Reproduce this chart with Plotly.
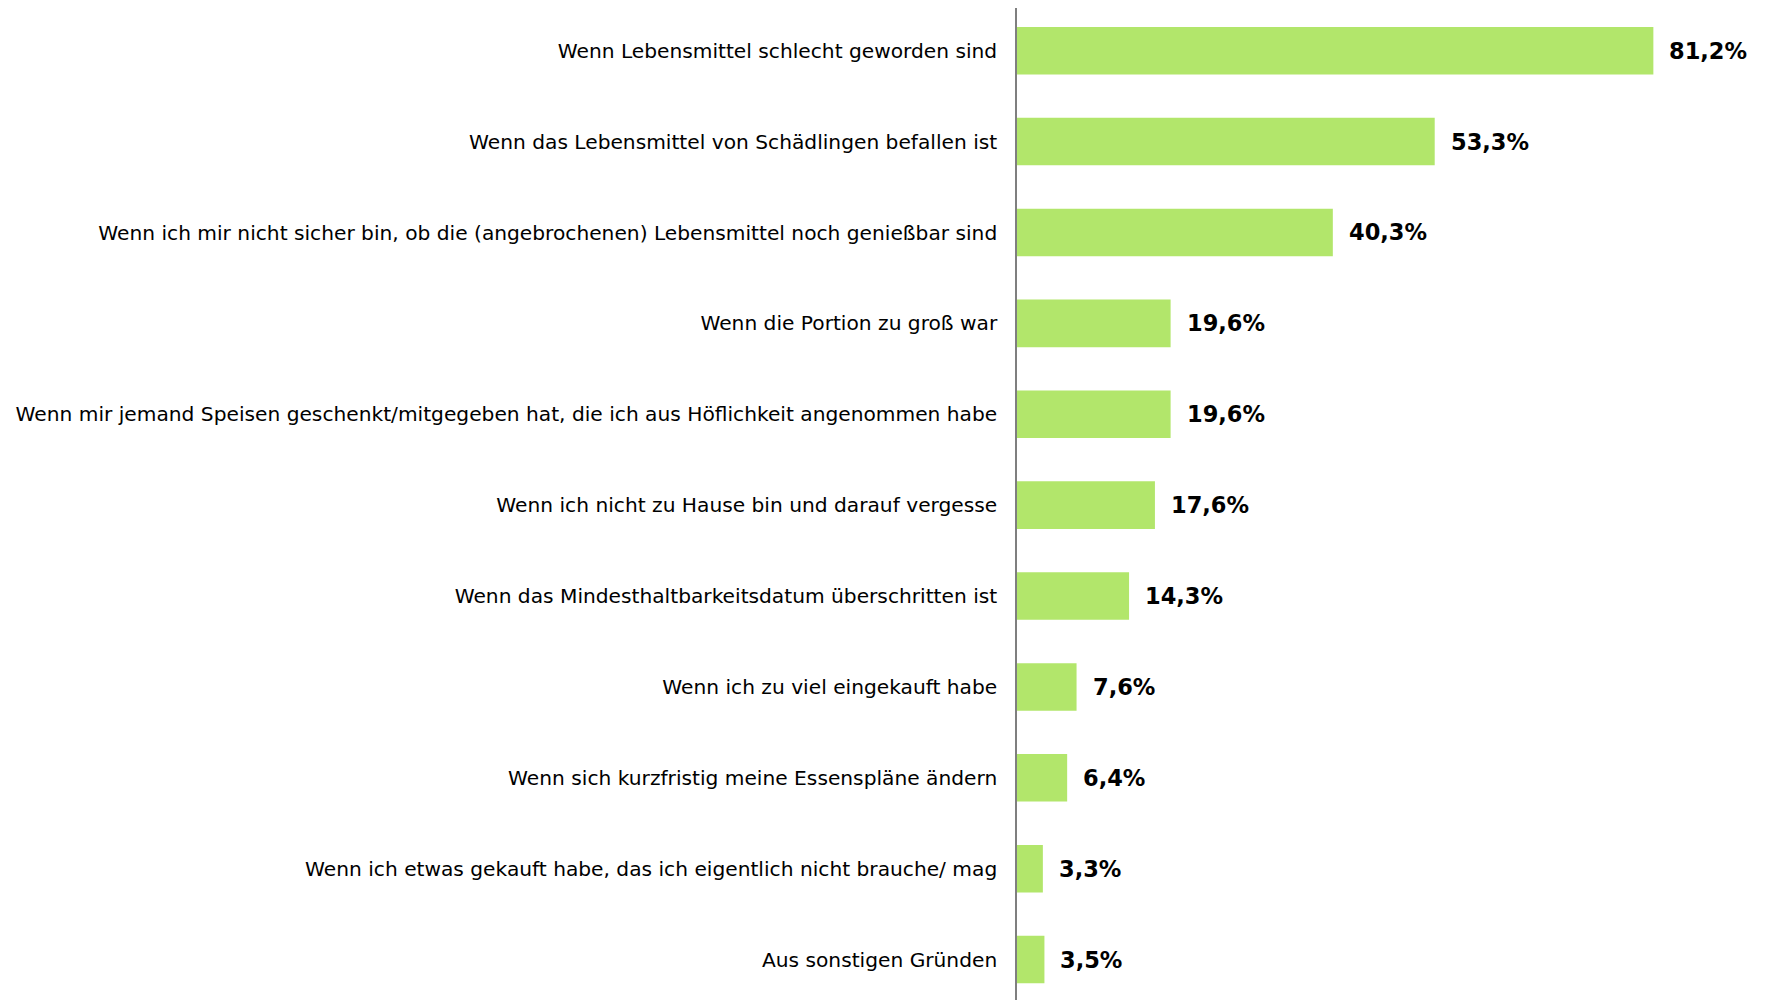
import plotly.graph_objects as go

categories = [
    "Wenn Lebensmittel schlecht geworden sind",
    "Wenn das Lebensmittel von Schädlingen befallen ist",
    "Wenn ich mir nicht sicher bin, ob die (angebrochenen) Lebensmittel noch genießbar sind",
    "Wenn die Portion zu groß war",
    "Wenn mir jemand Speisen geschenkt/mitgegeben hat, die ich aus Höflichkeit angenommen habe",
    "Wenn ich nicht zu Hause bin und darauf vergesse",
    "Wenn das Mindesthaltbarkeitsdatum überschritten ist",
    "Wenn ich zu viel eingekauft habe",
    "Wenn sich kurzfristig meine Essenspläne ändern",
    "Wenn ich etwas gekauft habe, das ich eigentlich nicht brauche/ mag",
    "Aus sonstigen Gründen",
]
values = [81.2, 53.3, 40.3, 19.6, 19.6, 17.6, 14.3, 7.6, 6.4, 3.3, 3.5]
labels = [f"{v:.1f}".replace(".", ",") + "%" for v in values]

fig = go.Figure(
    go.Bar(
        x=values,
        y=categories,
        orientation="h",
        marker=dict(color="#B2E66B", line=dict(width=0)),
        width=0.523,
        hoverinfo="skip",
    )
)

for c, v, t in zip(categories, values, labels):
    fig.add_annotation(
        x=v, y=c, text=f"<b>{t}</b>", showarrow=False, xanchor="left", yanchor="middle",
        xshift=14, font=dict(family="DejaVu Sans", size=22.5, color="#000000"),
    )

fig.update_layout(
    width=1757,
    height=992,
    margin=dict(l=1009, r=0, t=0, b=0),
    plot_bgcolor="white",
    paper_bgcolor="white",
    showlegend=False,
    font=dict(family="DejaVu Sans", color="#000000"),
)
fig.update_xaxes(range=[0, 748 / 7.837], showgrid=False, zeroline=False,
                 showticklabels=False, showline=False)
fig.update_yaxes(type="category", range=[10.445, -0.470], showgrid=False,
                 zeroline=False, showline=True, linecolor="#7F7F7F", linewidth=1.5,
                 ticks="", ticklabelstandoff=14,
                 tickfont=dict(family="DejaVu Sans", size=20.2, color="#000000"))

fig.write_html("out.html")
